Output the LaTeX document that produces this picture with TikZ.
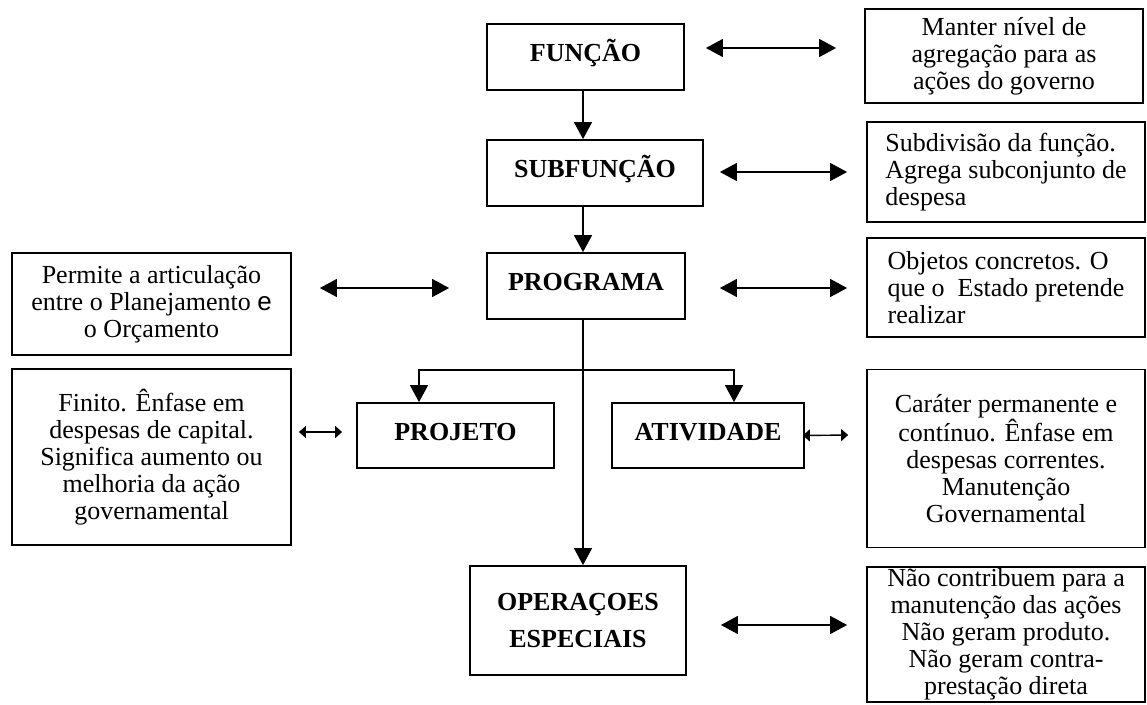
\documentclass[tikz,border=0pt]{standalone}
\usepackage{fontspec}
\setmainfont{Liberation Serif}
\newfontfamily\sansf{Liberation Sans}
\usetikzlibrary{arrows.meta}
\begin{document}
\begin{tikzpicture}[x=1pt,y=-1pt,
  box/.style={draw, line width=1.8pt, inner sep=0pt, align=center, font=\fontsize{26}{27}\selectfont},
  head/.style={box, font=\fontsize{26}{37}\selectfont\bfseries, text height=18pt, text depth=9pt},
  headtwo/.style={box, font=\fontsize{26}{37}\selectfont\bfseries},
  conn/.style={line width=1.4pt},
  arr/.style={conn, -{Triangle[length=17pt,width=18pt]}},
  dbl/.style={conn, {Triangle[length=17pt,width=18pt]}-{Triangle[length=17pt,width=18pt]}},
  sdbl/.style={conn, {Triangle[length=7pt,width=12pt]}-{Triangle[length=7pt,width=12pt]}}]
\useasboundingbox (0,0) rectangle (1147,704);

% central column
\node[head, minimum width=197pt, minimum height=66pt] (func) at (585.5,57) {FUNÇÃO};
\node[head, minimum width=216pt, minimum height=66pt] (sub) at (595,173) {SUBFUNÇÃO};
\node[head, minimum width=198pt, minimum height=66pt] (prog) at (586,286) {PROGRAMA};
\node[head, minimum width=197pt, minimum height=65pt] (proj) at (455.5,435.5) {PROJETO};
\node[head, minimum width=192pt, minimum height=65pt] (ativ) at (708,435.5) {ATIVIDADE};
\node[headtwo, minimum width=216pt, minimum height=109pt] (oper) at (578,620.5) {OPERAÇOES\\ESPECIAIS};

% right column
\node[box, minimum width=278pt, minimum height=94pt] (r1) at (1004,56)
  {Manter nível de\\agregação para as\\ações do governo};
\node[box, align=left, minimum width=278pt, minimum height=100pt] (r2) at (1006,172)
  {Subdivisão da função.\\Agrega subconjunto de\\despesa};
\node[box, align=left, minimum width=278pt, minimum height=99pt] (r3) at (1006,287.5)
  {Objetos concretos. O\\que o\ \ Estado pretende\\realizar};
\node[box, minimum width=278pt, minimum height=178pt] (r4) at (1006,458.5)
  {Caráter permanente e\\contínuo. Ênfase em\\despesas correntes.\\Manutenção\\Governamental};
\node[box, minimum width=278pt, minimum height=135pt] (r5) at (1006,634.5)
  {Não contribuem para a\\manutenção das ações\\Não geram produto.\\Não geram contra-\\prestação direta};

% left column
\node[box, minimum width=279pt, minimum height=102pt] (l1) at (151.5,304)
  {Permite a articulação\\entre o Planejamento {\sansf e}\\o Orçamento};
\node[box, minimum width=279pt, minimum height=176pt] (l2) at (151.5,457)
  {Finito. Ênfase em\\despesas de capital.\\Significa aumento ou\\melhoria da ação\\governamental};

% vertical flow
\draw[arr] ([xshift=-2.5pt]func.south) -- ([xshift=-12pt]sub.north);
\draw[arr] ([xshift=-12pt]sub.south) -- ([xshift=-3pt]prog.north);
\draw[arr] ([xshift=-3pt]prog.south) -- ([xshift=5pt]oper.north);
\coordinate (br) at ([xshift=-3pt,yshift=-50pt]prog.south);
\draw[arr] (br) -| ([xshift=-36.5pt]proj.north);
\draw[arr] (br) -| ([xshift=26pt]ativ.north);

% double arrows
\draw[dbl] ([xshift=21pt,yshift=9pt]func.east) -- ([xshift=-28pt,yshift=8pt]r1.west);
\draw[dbl] ([xshift=16pt,yshift=1pt]sub.east) -- ([xshift=-19pt]r2.west);
\draw[dbl] ([xshift=34pt,yshift=-2pt]prog.east) -- ([xshift=-19pt,yshift=-0.5pt]r3.west);
\draw[dbl] ([xshift=28pt,yshift=16pt]l1.east) -- ([xshift=-37pt,yshift=-2pt]prog.west);
\draw[sdbl] ([xshift=7pt,yshift=25pt]l2.east) -- ([xshift=-14pt,yshift=3.5pt]proj.west);
\draw[sdbl] ([xshift=-2pt]ativ.east) -- ([xshift=-18pt,yshift=23.5pt]r4.west);
\draw[dbl] ([xshift=34pt,yshift=-4.5pt]oper.east) -- ([xshift=-19pt,yshift=9.5pt]r5.west);
\end{tikzpicture}
\end{document}
